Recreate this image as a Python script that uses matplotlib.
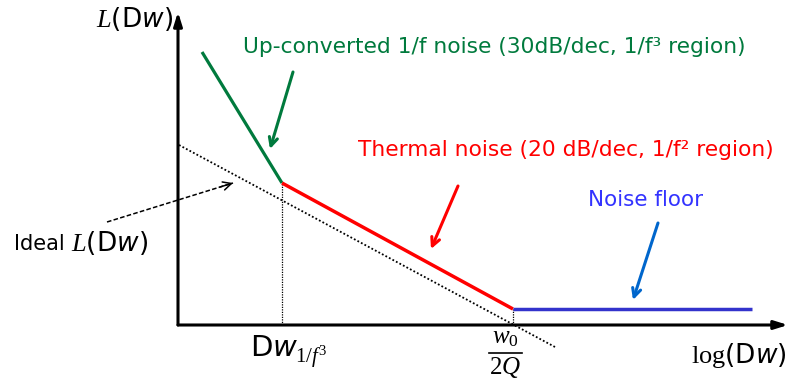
import matplotlib
matplotlib.use('Agg')
import matplotlib.pyplot as plt

plt.rcParams['font.family'] = ['DejaVu Sans']
plt.rcParams['mathtext.fontset'] = 'custom'
plt.rcParams['mathtext.rm'] = 'Liberation Serif'
plt.rcParams['mathtext.it'] = 'Liberation Serif:italic'
plt.rcParams['mathtext.sf'] = 'DejaVu Sans'
plt.rcParams['mathtext.bf'] = 'DejaVu Sans:italic'

# ---- schematic data (x: log(Δω) units, y: L(Δω) units) ----
flicker_x = [0.24, 1.04]
flicker_y = [2.73, 1.42]
thermal_x = [1.04, 3.35]
thermal_y = [1.42, 0.16]
floor_x = [3.35, 5.74]
floor_y = [0.16, 0.16]
ideal_x = [0.01, 3.77]
ideal_y = [1.80, -0.22]
corner_1f3 = 1.04
corner_res = 3.35

GREEN = '#007A3D'
RED = '#FF0000'
BLUE_LINE = '#3333CC'
BLUE_TXT = '#3333FF'
BLUE_ARR = '#0066CC'

W, H = 789, 382
fig = plt.figure(figsize=(W / 100, H / 100), dpi=100)
ax = fig.add_axes([0, 0, 1, 1])
X0, Y0, S = 178, 325, 100
ax.set_xlim(-X0 / S, (W - X0) / S)
ax.set_ylim(-(H - Y0) / S, Y0 / S)
ax.axis('off')


def P(x, y):
    return ((x - X0) / S, (Y0 - y) / S)


# axes with arrows
ax.annotate('', xy=P(788, 325), xytext=(0, 0),
            arrowprops=dict(arrowstyle='-|>,head_length=0.8,head_width=0.25', lw=2.2, color='black',
                            shrinkA=0, shrinkB=0))
ax.annotate('', xy=P(178, 12), xytext=(0, 0),
            arrowprops=dict(arrowstyle='-|>,head_length=0.8,head_width=0.25', lw=2.2, color='black',
                            shrinkA=0, shrinkB=0))

# curves
ax.plot(ideal_x, ideal_y, color='black', lw=1.3, linestyle=(0, (1, 1.2)))
ax.plot([corner_1f3, corner_1f3], [0, thermal_y[0]], color='black', lw=0.9, linestyle=(0, (1, 1)))
ax.plot([corner_res, corner_res], [0, floor_y[0]], color='black', lw=0.9, linestyle=(0, (1, 1)))
ax.plot(flicker_x, flicker_y, color=GREEN, lw=2.3, solid_capstyle='butt')
ax.plot(thermal_x, thermal_y, color=RED, lw=2.5, solid_capstyle='butt')
ax.plot(floor_x, floor_y, color=BLUE_LINE, lw=2.5, solid_capstyle='butt')

# pointer arrows
def arrow(p0, p1, color, lw=2.2):
    ax.annotate('', xy=P(*p1), xytext=P(*p0),
                arrowprops=dict(arrowstyle='->,head_length=0.6,head_width=0.3', lw=lw, color=color,
                                shrinkA=0, shrinkB=0))

arrow((293, 72), (270, 149), GREEN)
arrow((458, 186), (431, 249), RED)
arrow((658, 223), (633, 300), BLUE_ARR)

# dashed arrow for ideal
a0, a1 = P(107, 222), P(233, 183)
ax.plot([a0[0], a1[0]], [a0[1], a1[1]], color='black', lw=1.1, linestyle=(0, (3, 1.5)))
ax.annotate('', xy=a1, xytext=P(220, 187),
            arrowprops=dict(arrowstyle='->,head_length=0.6,head_width=0.3', lw=1.1, color='black',
                            shrinkA=0, shrinkB=0))

# texts
ax.text(*P(243, 47), 'Up-converted 1/f noise (30dB/dec, 1/f³ region)', color=GREEN,
        fontsize=15.7, ha='left', va='center')
ax.text(*P(358, 150), 'Thermal noise (20 dB/dec, 1/f² region)', color=RED,
        fontsize=15.7, ha='left', va='center')
ax.text(*P(588, 200), 'Noise floor', color=BLUE_TXT, fontsize=15.5, ha='left', va='center')

ax.text(*P(173, 19), r'$\mathit{L}\mathsf{(D}\mathbf{w}\mathsf{)}$', fontsize=19, ha='right', va='center')
ax.text(*P(65, 244), 'Ideal', fontsize=15, ha='right', va='center')
ax.text(*P(71, 243), r'$\mathit{L}\mathsf{(D}\mathbf{w}\mathsf{)}$', fontsize=19, ha='left', va='center')

ax.text(*P(250, 348), r'$\mathsf{D}\mathbf{w}$', fontsize=21, ha='left', va='center')
ax.text(*P(295, 357), r'$\mathrm{1/}\mathit{f}^{\mathrm{3}}$', fontsize=15, ha='left', va='center')

ax.text(*P(505, 337), r'$\mathit{w}_{\mathrm{0}}$', fontsize=18, ha='center', va='center')
f0, f1 = P(489, 353), P(522, 353)
ax.plot([f0[0], f1[0]], [f0[1], f1[1]], color='black', lw=1.2)
ax.text(*P(505, 368), r'$\mathrm{2}\mathit{Q}$', fontsize=18, ha='center', va='center')

ax.text(*P(787, 355), r'$\mathrm{log}\mathsf{(D}\mathbf{w}\mathsf{)}$', fontsize=19, ha='right', va='center')

fig.savefig('out.png', dpi=100)
